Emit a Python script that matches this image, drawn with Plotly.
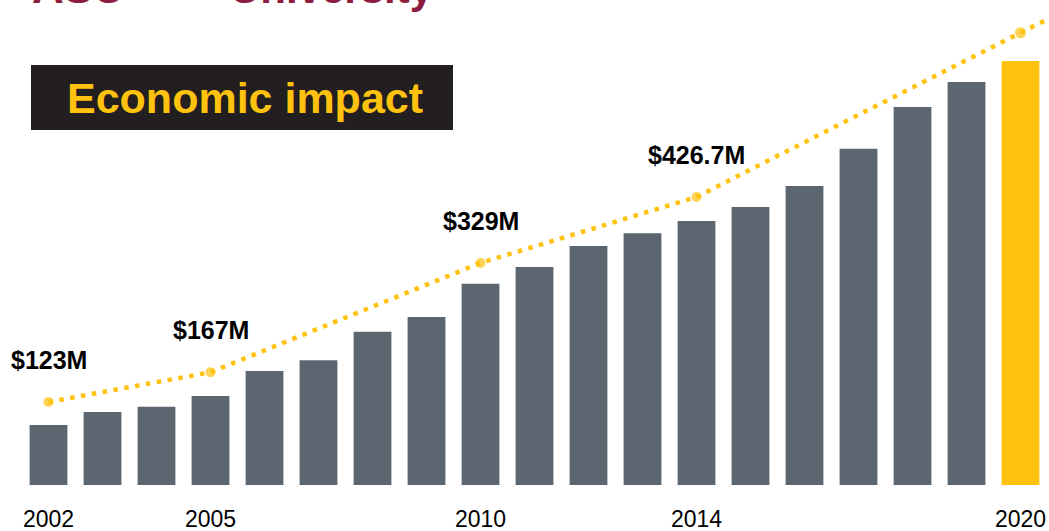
import plotly.graph_objects as go

# ---- data ----
years = list(range(2002, 2021))
bar_values = [89, 108, 116, 132, 169, 185, 227, 249, 298, 323, 354, 373, 391, 412, 443, 498, 560, 597, 628]
bar_colors = ["#5B6670"] * 18 + ["#FFC20E"]

trend_years = [2002, 2005, 2010, 2014, 2020, 2021]
trend_values = [123, 167, 329, 426.7, 670, 710]
trend_labels = ["$123M", "$167M", "$329M", "$426.7M", "", ""]
trend_marker_sizes = [10, 10, 10, 10, 11, 0]

tick_years = [2002, 2005, 2010, 2014, 2020]
tick_labels = ["2002", "2005", "2010", "2014", "2020"]

W, H = 1049, 531
PLOT_BOTTOM = 485  # pixel row of bar baseline


def py(p):
    """pixel row -> paper y"""
    return (PLOT_BOTTOM - p) / PLOT_BOTTOM


def px(p):
    return p / W


fig = go.Figure()

fig.add_trace(go.Bar(
    x=years, y=bar_values, marker=dict(color=bar_colors, line=dict(width=0)),
    width=0.7, hoverinfo="x+y", showlegend=False,
))

fig.add_trace(go.Scatter(
    x=trend_years, y=trend_values, mode="lines+markers",
    line=dict(color="#FFC20E", width=4.5, dash="4.5px,6.5px"),
    marker=dict(color="#FFC20E", size=trend_marker_sizes, line=dict(width=0)),
    cliponaxis=True, showlegend=False,
))

annotations = []
for yr, v, t in zip(trend_years, trend_values, trend_labels):
    if t:
        annotations.append(dict(
            x=yr, y=v, xref="x", yref="y", text=f"<b>{t}</b>", showarrow=False,
            yshift=42, font=dict(family="Liberation Sans, Arial, sans-serif", size=25, color="#000000"),
        ))

# title box text
annotations.append(dict(
    x=px(245), y=py(98), xref="paper", yref="paper", text="<b>Economic impact</b>",
    showarrow=False, xanchor="center", yanchor="middle",
    font=dict(family="Liberation Sans, Arial, sans-serif", size=43, color="#FFC20E"),
))

# cropped logo fragment at very top (the reference shows only its lower edge)
annotations.append(dict(
    x=px(30), y=py(6), xref="paper", yref="paper", text="<b>ASU</b>",
    showarrow=False, xanchor="left", yanchor="bottom", yshift=-8,
    font=dict(family="Liberation Sans, Arial, sans-serif", size=44, color="#8C1D40"),
))
annotations.append(dict(
    x=px(228), y=py(6), xref="paper", yref="paper", text="<b>University</b>",
    showarrow=False, xanchor="left", yanchor="bottom", yshift=-8,
    font=dict(family="Liberation Sans, Arial, sans-serif", size=42, color="#8C1D40"),
))

fig.update_layout(
    width=W, height=H,
    margin=dict(l=0, r=0, t=0, b=H - PLOT_BOTTOM, pad=0),
    paper_bgcolor="white", plot_bgcolor="white",
    bargap=0.3,
    xaxis=dict(
        range=[2002 - 48.5 / 54, 2002 + (W - 48.5) / 54],
        tickvals=tick_years, ticktext=tick_labels, ticks="",
        showgrid=False, zeroline=False, showline=False,
        tickfont=dict(family="Liberation Sans, Arial, sans-serif", size=23, color="#000000"),
        ticklabelstandoff=18,
    ),
    yaxis=dict(range=[0, PLOT_BOTTOM / 0.675], visible=False, showgrid=False, zeroline=False),
    shapes=[dict(
        type="rect", xref="paper", yref="paper",
        x0=px(31), x1=px(453), y0=py(130), y1=py(65),
        fillcolor="#231F20", line=dict(width=0), layer="above",
    )],
    annotations=annotations,
)

fig.write_html(
    "out.html",
    config={"displayModeBar": False},
    post_script="document.body.style.margin='0';document.body.style.overflow='hidden';",
)
